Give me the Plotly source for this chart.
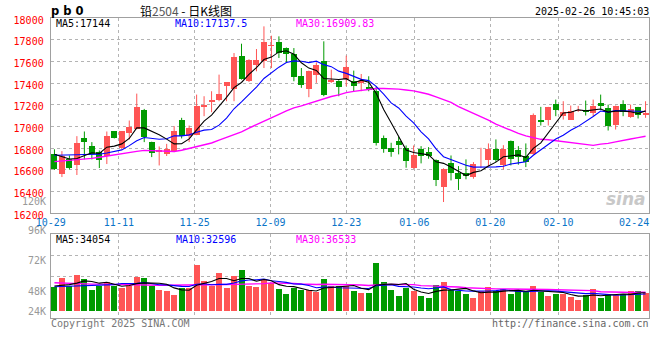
import plotly.graph_objects as go

# ---------------- data ----------------
tick_labels = ["10-29", "11-11", "11-25", "12-09", "12-23", "01-06", "01-20", "02-10", "02-24"]
tick_index = [0, 9, 19, 29, 39, 48, 58, 67, 77]
grid_index = [9, 19, 29, 39, 48, 58, 67]

opens = [16750, 16560, 16697, 16641, 16890, 16816, 16764, 16724, 16954, 16804,
         16939, 16979, 17150, 16853, 16765, 16746, 16773, 17064, 16911, 16926,
         17181, 17227, 17248, 17371, 17346, 17647, 17417, 17564, 17601, 17745,
         17778, 17723, 17668, 17469, 17349, 17472, 17601, 17408, 17423, 17441,
         17423, 17402, 17362, 17325, 16890, 16798, 16871, 16798, 16614, 16795,
         16764, 16687, 16442, 16666, 16574, 16574, 16537, 16678, 16690, 16789,
         16645, 16865, 16779, 16727, 16743, 17058, 17058, 17208, 17095, 17064,
         17141, 17156, 17126, 17218, 17172, 17018, 17208, 17089, 17181, 17105]
highs = [16790, 16773, 16733, 16911, 16954, 16856, 16779, 16954, 16958, 16958,
         17055, 17303, 17162, 16860, 16816, 16840, 17003, 17080, 17009, 17294,
         17279, 17325, 17478, 17410, 17677, 17763, 17620, 17714, 17923, 17837,
         17831, 17728, 17723, 17539, 17515, 17592, 17785, 17524, 17427, 17653,
         17515, 17484, 17463, 17371, 16917, 16850, 16905, 16825, 16825, 16819,
         16810, 16697, 16615, 16733, 16635, 16697, 16672, 16804, 16844, 16881,
         16828, 16871, 16819, 16844, 17120, 17181, 17181, 17248, 17233, 17193,
         17190, 17239, 17248, 17294, 17202, 17193, 17242, 17202, 17181, 17233]
lows = [16600, 16534, 16605, 16553, 16697, 16697, 16617, 16654, 16890, 16790,
        16880, 16975, 16856, 16718, 16641, 16728, 16764, 16890, 16856, 16920,
        17095, 17132, 17233, 17233, 17233, 17432, 17410, 17509, 17539, 17539,
        17631, 17585, 17417, 17356, 17270, 17402, 17279, 17402, 17279, 17371,
        17325, 17325, 17325, 16825, 16758, 16721, 16743, 16620, 16610, 16660,
        16703, 16451, 16304, 16503, 16415, 16513, 16519, 16620, 16635, 16672,
        16605, 16641, 16648, 16626, 16740, 17009, 17009, 17095, 17064, 17060,
        17135, 17101, 17095, 17156, 16963, 16972, 17095, 17080, 17074, 17080]
closes = [16608, 16727, 16614, 16844, 16853, 16749, 16694, 16908, 16893, 16954,
          17000, 17184, 16905, 16755, 16780, 16795, 16963, 16911, 16982, 17193,
          17199, 17242, 17303, 17408, 17638, 17438, 17616, 17616, 17775, 17754,
          17677, 17668, 17457, 17380, 17509, 17570, 17294, 17432, 17362, 17546,
          17371, 17423, 17340, 16850, 16795, 16764, 16825, 16681, 16733, 16727,
          16727, 16503, 16611, 16568, 16513, 16543, 16651, 16684, 16789, 16690,
          16789, 16703, 16721, 16672, 17110, 17040, 17181, 17156, 17135, 17147,
          17150, 17132, 17193, 17187, 17003, 17193, 17132, 17162, 17110, 17123]
volumes = [46080, 63360, 47360, 68480, 60800, 39680, 48000, 55680, 47360, 44160,
           47360, 65280, 63360, 48000, 39680, 37760, 30080, 44160, 44160, 87680,
           56960, 47360, 72960, 44160, 66560, 78080, 48000, 46080, 60800, 53760,
           41600, 32000, 42880, 39680, 39680, 35200, 60800, 48000, 47360, 48000,
           37760, 34560, 34560, 92160, 55680, 39680, 28800, 44160, 38400, 28800,
           24960, 49280, 55680, 39680, 37760, 32000, 24960, 37760, 46080, 37760,
           41600, 32000, 37760, 37760, 47360, 35200, 28800, 32000, 32000, 26880,
           20480, 30080, 41600, 24960, 32000, 30080, 32000, 37760, 37760, 34560]

# moving-average values before enough history exists
ma5_head = [16745, 16720, 16700, 16705]
ma10_head = [16735, 16735, 16735, 16740, 16742, 16745, 16745, 16755, 16768]
ma30_head = [16676, 16681, 16686, 16690, 16695, 16706, 16716, 16728, 16741, 16752,
             16762, 16771, 16780, 16778, 16770, 16768, 16770, 16781, 16797, 16815,
             16833, 16848, 16875, 16902, 16928, 16950, 16985, 17015, 17045]
vma5_head = [47400, 48000, 50000, 53000]
vma10_head = [46000, 46500, 47000, 47500, 48000, 48500, 49000, 49500, 50000]
vma30_head = [53800, 53000, 52500, 52000, 51500, 51000, 51000, 50600, 50600, 50600,
              50200, 50000, 49500, 49200, 49000, 49000, 49000, 49000, 49500, 49500,
              50000, 50000, 50300, 50300, 50500, 50800, 51000, 51500, 52000]

header_main = ["MA5:17144", "MA10:17137.5", "MA30:16909.83"]
header_vol = ["MA5:34054", "MA10:32596", "MA30:36533"]
vol_labels = ["120K", "96K", "72K", "48K", "24K"]
price_ticks = [16200, 16400, 16600, 16800, 17000, 17200, 17400, 17600, 17800, 18000]


def moving_average(vals, n, head):
    out = []
    for i in range(len(vals)):
        if i < n - 1:
            out.append(head[i])
        else:
            out.append(sum(vals[i - n + 1:i + 1]) / n)
    return out


# ---------------- styling ----------------
W, H = 660, 360
RED = "#ff5555"
GREEN = "#009a00"
GRID = "#b4b4b4"
BORDER = "#a0a0a0"
MONO = "DejaVu Sans Mono"

PL, PR = 50.7, 649.3
MAIN_T, MAIN_B = 18.0, 213.3
VOL_T, VOL_B = 234.3, 317.7
VOL_BASE = 310.7          # pixel row where volume bars start
VK = 1920                 # volume units per pixel


def px(xp):
    return xp / W


def py(yp):
    return 1 - yp / H


N = len(closes)
xs = list(range(N))

fig = go.Figure()

# candle bodies and wicks
for up, col in ((True, RED), (False, GREEN)):
    bx, bb, bh = [], [], []
    wx, wy = [], []
    for i in xs:
        o, c = opens[i], closes[i]
        if (c >= o) != up:
            continue
        bx.append(i)
        bb.append(min(o, c))
        bh.append(max(abs(c - o), 8))
        wx += [i, i, None]
        wy += [lows[i], highs[i], None]
    fig.add_trace(go.Scatter(x=wx, y=wy, mode="lines", line=dict(color=col, width=1),
                             hoverinfo="skip", showlegend=False, xaxis="x", yaxis="y"))
    fig.add_trace(go.Bar(x=bx, y=bh, base=bb, width=0.8, marker=dict(color=col, line=dict(width=0)),
                         showlegend=False, xaxis="x", yaxis="y"))

ma5 = moving_average(closes, 5, ma5_head)
ma10 = moving_average(closes, 10, ma10_head)
ma30 = moving_average(closes, 30, ma30_head)
for series, col, wdt in ((ma30, "#ff00ff", 1.4), (ma10, "#0000ff", 1.1), (ma5, "#000000", 1.1)):
    fig.add_trace(go.Scatter(x=xs, y=series, mode="lines", line=dict(color=col, width=wdt),
                             showlegend=False, xaxis="x", yaxis="y"))

# volume
vcol = [RED if closes[i] >= opens[i] else GREEN for i in xs]
fig.add_trace(go.Bar(x=xs, y=volumes, width=0.8, marker=dict(color=vcol, line=dict(width=0)),
                     showlegend=False, xaxis="x2", yaxis="y2"))
vma5 = moving_average(volumes, 5, vma5_head)
vma10 = moving_average(volumes, 10, vma10_head)
vma30 = moving_average(volumes, 30, vma30_head)
for series, col, wdt in ((vma30, "#ff00ff", 1.4), (vma10, "#0000ff", 1.1), (vma5, "#000000", 1.1)):
    fig.add_trace(go.Scatter(x=xs, y=series, mode="lines", line=dict(color=col, width=wdt),
                             showlegend=False, xaxis="x2", yaxis="y2"))

tickvals = [d * N / (N - 1) - 0.5 for d in tick_index]
gridvals = [d * N / (N - 1) - 0.5 for d in grid_index]

xcommon = dict(domain=[px(PL), px(PR)], range=[-0.5, N - 0.5], showgrid=False, zeroline=False,
               showline=True, mirror=True, linecolor=BORDER, linewidth=1, ticks="", automargin=False,
               minor=dict(tickmode="array", tickvals=gridvals, showgrid=True, gridcolor=GRID,
                          griddash="dot", gridwidth=1, ticks=""))

fig.update_layout(
    width=W, height=H, margin=dict(l=0, r=0, t=0, b=0, autoexpand=False),
    paper_bgcolor="white", plot_bgcolor="white",
    font=dict(family=MONO, size=10, color="#000"),
    bargap=0, barmode="overlay", showlegend=False, hovermode=False,
    xaxis=dict(**xcommon, anchor="y", tickmode="array", tickvals=tickvals, ticktext=tick_labels,
               tickfont=dict(family=MONO, size=10, color="#0a74c8")),
    yaxis=dict(domain=[py(MAIN_B), py(MAIN_T)], range=[16200, 18000], tickmode="array",
               tickvals=price_ticks, ticktext=[str(v) for v in price_ticks],
               tickfont=dict(family=MONO, size=10, color="#ff0000"),
               showgrid=True, gridcolor=GRID, griddash="dot", gridwidth=1, zeroline=False,
               showline=True, mirror=True, linecolor=BORDER, linewidth=1, ticks="",
               ticklabelstandoff=4, ticklabelshift=2, automargin=False),
    xaxis2=dict(**xcommon, anchor="y2", showticklabels=False),
    yaxis2=dict(domain=[py(VOL_B), py(VOL_T)],
                range=[-(VOL_B - VOL_BASE) * VK, (VOL_BASE - VOL_T) * VK],
                tickmode="array", tickvals=[(VOL_BASE - 276.0) * VK, (VOL_BASE - 255.7) * VK],
                showticklabels=False, showgrid=True, gridcolor=GRID, griddash="dot", gridwidth=1,
                zeroline=False, showline=True, mirror=True, linecolor=BORDER, linewidth=1, ticks="",
                automargin=False),
)

ann = []


def text(x, y, s, color="#000", size=10, xa="left", family=MONO, **kw):
    ann.append(dict(x=px(x), y=py(y), xref="paper", yref="paper", text=s, showarrow=False,
                    xanchor=xa, yanchor="middle", font=dict(family=family, size=size, color=color),
                    borderpad=0, **kw))


# titles
text(50, 10.5, "<b>p b 0</b>", size=11.5, family="DejaVu Sans")
text(139, 10.5, "铅<span style='color:#555'>2504</span> - 日K线图", size=12,
     family="Noto Sans CJK SC")
text(649.5, 11.7, "2025-02-26 10:45:03", xa="right")

# panel headers
cols = ["#000000", "#0000ff", "#ff00ff"]
for s, x0, c in zip(header_main, [55, 174, 295], cols):
    text(x0, 23.5, s, color=c)
for s, x0, c in zip(header_vol, [55, 175, 295], cols):
    text(x0, 239.5, s, color=c)

# volume axis labels
for s, y0 in zip(vol_labels, [201.7, 230.7, 260.7, 291.0, 311.7]):
    text(46.5, y0, s, color="#999999", xa="right")

# footer
text(50, 323.5, "Copyright 2025 SINA.COM", color="#777777")
text(649.5, 323.5, "http://finance.sina.com.cn", color="#666666", xa="right")

# watermark
text(647, 199, "<b><i>sina</i></b>", color="#c8c8c8", size=17, xa="right", family="DejaVu Sans")

fig.update_layout(annotations=ann)
fig.write_html("out.html", config={"displayModeBar": False, "staticPlot": True})

# remove the browser's default page margin so the figure sits at the window's corner
with open("out.html", encoding="utf-8") as f:
    page = f.read()
page = page.replace("<head>", "<head><style>html,body{margin:0;padding:0;overflow:hidden;}</style>", 1)
with open("out.html", "w", encoding="utf-8") as f:
    f.write(page)
